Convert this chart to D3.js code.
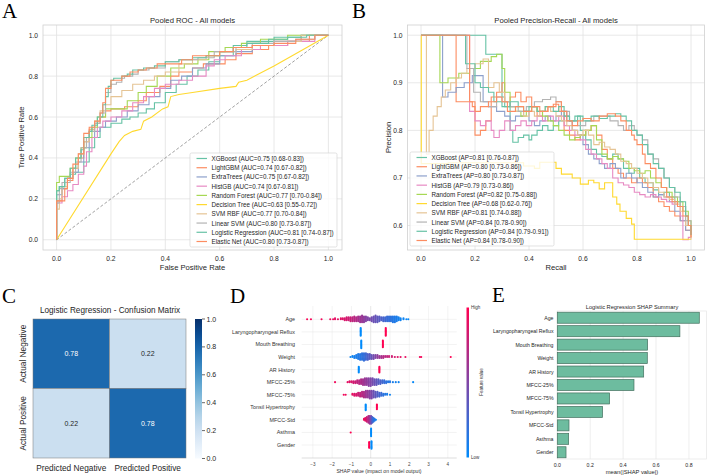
<!DOCTYPE html>
<html>
<head>
<meta charset="utf-8">
<script src="https://cdn.jsdelivr.net/npm/d3@7/dist/d3.min.js"></script>
<style>
  body { margin: 0; background: #fff; }
  svg { display: block; font-family: "Liberation Sans", Arial, sans-serif; }
  .panel-letter { font-family: "Liberation Serif", "Times New Roman", serif; font-size: 21px; fill: #000; }
</style>
</head>
<body>
<svg id="fig" width="708" height="475"></svg>
<script>
// ---------- data ----------
const modelNames = ["XGBoost", "LightGBM", "ExtraTrees", "HistGB", "Random Forest", "Decision Tree",
  "SVM RBF", "Linear SVM", "Logistic Regression", "Elastic Net"];
const modelColors = ["#66c2a5", "#fc8d62", "#8da0cb", "#e78ac3", "#a6d854", "#ffd92f",
  "#e5c494", "#b3b3b3", "#66c2a5", "#fc8d62"];
const aucText = ["0.75 [0.68-0.83]", "0.74 [0.67-0.82]", "0.75 [0.67-0.82]", "0.74 [0.67-0.81]", "0.77 [0.70-0.84]",
  "0.63 [0.55-0.72]", "0.77 [0.70-0.84]", "0.80 [0.73-0.87]", "0.81 [0.74-0.87]", "0.80 [0.73-0.87]"];
const apText = ["0.81 [0.76-0.87]", "0.80 [0.73-0.86]", "0.80 [0.73-0.87]", "0.79 [0.73-0.86]", "0.82 [0.75-0.88]",
  "0.68 [0.62-0.76]", "0.81 [0.74-0.88]", "0.84 [0.78-0.90]", "0.84 [0.79-0.91]", "0.84 [0.78-0.90]"];

// ROC points [fpr, tpr]
const rocXGBoost = [[0,0],[0,0.06],[0.01,0.24],[0.03,0.26],[0.05,0.3],[0.07,0.32],[0.1,0.33],[0.12,0.38],[0.14,0.45],[0.16,0.5],[0.18,0.55],[0.2,0.55],[0.24,0.57],[0.27,0.59],[0.3,0.6],[0.33,0.62],[0.36,0.64],[0.4,0.67],[0.44,0.72],[0.48,0.76],[0.52,0.8],[0.56,0.83],[0.6,0.87],[0.65,0.9],[0.7,0.95],[0.8,0.97],[0.9,0.99],[1,1]];
const rocLightGBM = [[0,0],[0,0.18],[0.02,0.19],[0.04,0.25],[0.06,0.29],[0.08,0.35],[0.1,0.4],[0.12,0.48],[0.14,0.54],[0.16,0.57],[0.18,0.6],[0.2,0.63],[0.25,0.64],[0.3,0.65],[0.33,0.68],[0.38,0.72],[0.42,0.75],[0.45,0.8],[0.5,0.82],[0.54,0.84],[0.58,0.86],[0.62,0.86],[0.66,0.88],[0.72,0.91],[0.78,0.93],[0.85,0.95],[0.93,0.97],[1,1]];
const rocExtraTrees = [[0,0],[0,0.1],[0.02,0.22],[0.04,0.25],[0.06,0.3],[0.08,0.33],[0.1,0.38],[0.12,0.45],[0.14,0.5],[0.16,0.53],[0.18,0.55],[0.22,0.58],[0.26,0.6],[0.3,0.63],[0.34,0.66],[0.38,0.7],[0.42,0.74],[0.46,0.78],[0.5,0.8],[0.55,0.84],[0.6,0.86],[0.66,0.9],[0.72,0.92],[0.8,0.95],[0.9,0.97],[1,1]];
const rocHistGB = [[0,0],[0,0.08],[0.02,0.18],[0.04,0.21],[0.06,0.24],[0.08,0.27],[0.1,0.32],[0.11,0.36],[0.13,0.43],[0.15,0.5],[0.17,0.55],[0.2,0.58],[0.24,0.6],[0.28,0.63],[0.32,0.67],[0.36,0.7],[0.4,0.74],[0.45,0.76],[0.5,0.78],[0.55,0.8],[0.58,0.85],[0.62,0.88],[0.68,0.9],[0.75,0.93],[0.85,0.95],[0.95,0.97],[1,1]];
const rocRandomForest = [[0,0],[0,0.12],[0.01,0.28],[0.03,0.31],[0.05,0.31],[0.07,0.35],[0.09,0.4],[0.11,0.45],[0.13,0.5],[0.15,0.55],[0.18,0.6],[0.21,0.64],[0.26,0.64],[0.3,0.68],[0.33,0.72],[0.37,0.75],[0.42,0.8],[0.47,0.84],[0.52,0.86],[0.56,0.88],[0.62,0.92],[0.68,0.94],[0.75,0.96],[0.85,0.98],[1,1]];
const rocDecisionTree = [[0,0],[0.2,0.42],[0.23,0.48],[0.25,0.51],[0.28,0.53],[0.31,0.54],[0.32,0.58],[0.35,0.6],[0.39,0.64],[0.41,0.65],[0.42,0.7],[0.45,0.71],[0.5,0.72],[0.6,0.74],[0.66,0.75],[0.67,0.77],[0.7,0.78],[0.8,0.85],[1,1]];
const rocSvmRbf = [[0,0],[0,0.05],[0.01,0.15],[0.02,0.2],[0.04,0.26],[0.06,0.3],[0.08,0.35],[0.1,0.42],[0.12,0.48],[0.14,0.53],[0.16,0.58],[0.18,0.63],[0.2,0.66],[0.24,0.7],[0.28,0.73],[0.32,0.76],[0.36,0.78],[0.4,0.8],[0.45,0.82],[0.5,0.86],[0.55,0.88],[0.6,0.9],[0.66,0.92],[0.72,0.93],[0.8,0.95],[0.9,0.97],[1,1]];
const rocLinearSvm = [[0,0],[0,0.07],[0.01,0.18],[0.02,0.25],[0.05,0.28],[0.07,0.33],[0.09,0.38],[0.11,0.45],[0.12,0.5],[0.14,0.53],[0.16,0.57],[0.18,0.62],[0.2,0.72],[0.22,0.76],[0.24,0.77],[0.25,0.79],[0.28,0.8],[0.3,0.81],[0.34,0.83],[0.4,0.84],[0.45,0.87],[0.52,0.88],[0.58,0.89],[0.66,0.92],[0.72,0.94],[0.8,0.96],[0.88,0.97],[0.95,0.98],[1,1]];
const rocLogReg = [[0,0],[0,0.17],[0.01,0.24],[0.03,0.26],[0.05,0.3],[0.07,0.35],[0.09,0.4],[0.1,0.44],[0.12,0.5],[0.13,0.53],[0.15,0.56],[0.17,0.6],[0.18,0.66],[0.19,0.7],[0.2,0.75],[0.21,0.78],[0.24,0.79],[0.26,0.8],[0.28,0.81],[0.32,0.83],[0.36,0.84],[0.4,0.85],[0.45,0.87],[0.5,0.88],[0.55,0.89],[0.6,0.9],[0.65,0.92],[0.7,0.94],[0.78,0.96],[0.85,0.98],[0.92,0.99],[1,1]];
const rocElasticNet = [[0,0],[0,0.13],[0,0.19],[0.03,0.19],[0.04,0.25],[0.06,0.3],[0.08,0.37],[0.1,0.42],[0.12,0.52],[0.14,0.55],[0.16,0.58],[0.17,0.62],[0.18,0.67],[0.2,0.74],[0.21,0.78],[0.24,0.78],[0.27,0.8],[0.3,0.82],[0.33,0.83],[0.37,0.84],[0.41,0.86],[0.46,0.86],[0.5,0.88],[0.55,0.9],[0.6,0.9],[0.65,0.92],[0.72,0.94],[0.8,0.95],[0.88,0.96],[0.95,0.98],[1,1]];
const rocCurves = [rocXGBoost, rocLightGBM, rocExtraTrees, rocHistGB, rocRandomForest, rocDecisionTree,
  rocSvmRbf, rocLinearSvm, rocLogReg, rocElasticNet];

// precision-recall points [recall, precision] (level starts at recall)
const prXGBoost = [[0,1],[0.24,0.96],[0.3,0.87],[0.31,0.85],[0.33,0.8],[0.34,0.775],[0.36,0.785],[0.38,0.79],[0.4,0.78],[0.41,0.79],[0.43,0.8],[0.45,0.81],[0.47,0.8],[0.49,0.81],[0.51,0.82],[0.53,0.83],[0.55,0.82],[0.57,0.83],[0.59,0.8],[0.61,0.78],[0.63,0.76],[0.65,0.75],[0.67,0.745],[0.69,0.74],[0.71,0.75],[0.73,0.74],[0.75,0.72],[0.77,0.71],[0.79,0.72],[0.81,0.7],[0.83,0.69],[0.86,0.675],[0.88,0.665],[0.9,0.67],[0.92,0.66],[0.94,0.65],[0.96,0.64],[0.98,0.62],[0.99,0.6],[1,0.58]];
const prLightGBM = [[0,1],[0.13,0.86],[0.19,0.85],[0.2,0.79],[0.22,0.8],[0.24,0.82],[0.26,0.87],[0.28,0.88],[0.3,0.9],[0.31,0.86],[0.33,0.87],[0.35,0.88],[0.37,0.86],[0.39,0.87],[0.41,0.85],[0.43,0.83],[0.45,0.84],[0.47,0.85],[0.49,0.855],[0.51,0.84],[0.53,0.8],[0.55,0.79],[0.57,0.78],[0.59,0.79],[0.61,0.8],[0.63,0.81],[0.65,0.79],[0.67,0.76],[0.69,0.74],[0.71,0.72],[0.73,0.71],[0.75,0.7],[0.78,0.69],[0.8,0.7],[0.82,0.69],[0.84,0.68],[0.86,0.66],[0.88,0.65],[0.9,0.64],[0.92,0.63],[0.94,0.62],[0.96,0.61],[0.98,0.59],[1,0.575]];
const prExtraTrees = [[0,1],[0.08,0.87],[0.1,0.88],[0.13,0.89],[0.16,0.9],[0.19,0.915],[0.23,0.86],[0.25,0.85],[0.28,0.84],[0.31,0.83],[0.33,0.82],[0.35,0.83],[0.38,0.84],[0.4,0.82],[0.42,0.81],[0.44,0.82],[0.46,0.83],[0.48,0.82],[0.5,0.83],[0.52,0.84],[0.54,0.82],[0.56,0.8],[0.58,0.79],[0.6,0.77],[0.62,0.75],[0.64,0.74],[0.66,0.73],[0.68,0.72],[0.7,0.73],[0.72,0.72],[0.74,0.7],[0.76,0.71],[0.78,0.7],[0.8,0.69],[0.82,0.68],[0.84,0.67],[0.86,0.66],[0.88,0.665],[0.9,0.66],[0.92,0.65],[0.94,0.63],[0.96,0.61],[0.98,0.59],[1,0.58]];
const prHistGB = [[0,1],[0.18,0.84],[0.2,0.82],[0.22,0.81],[0.24,0.82],[0.26,0.8],[0.27,0.785],[0.29,0.8],[0.31,0.82],[0.33,0.8],[0.35,0.81],[0.37,0.82],[0.39,0.81],[0.41,0.82],[0.43,0.83],[0.45,0.82],[0.47,0.83],[0.49,0.82],[0.51,0.83],[0.53,0.81],[0.55,0.8],[0.57,0.79],[0.59,0.78],[0.61,0.76],[0.63,0.75],[0.65,0.74],[0.67,0.73],[0.69,0.72],[0.71,0.7],[0.73,0.69],[0.75,0.685],[0.77,0.68],[0.79,0.67],[0.81,0.665],[0.83,0.66],[0.85,0.665],[0.87,0.66],[0.89,0.655],[0.91,0.65],[0.93,0.645],[0.95,0.64],[0.96,0.62],[0.97,0.57],[0.99,0.575],[1,0.575]];
const prRandomForest = [[0,1],[0.07,0.9],[0.1,0.91],[0.14,0.92],[0.18,0.93],[0.22,0.945],[0.26,0.955],[0.28,0.96],[0.3,0.93],[0.31,0.88],[0.33,0.85],[0.35,0.84],[0.37,0.83],[0.39,0.84],[0.41,0.85],[0.43,0.84],[0.45,0.83],[0.47,0.82],[0.49,0.81],[0.51,0.8],[0.53,0.79],[0.55,0.78],[0.57,0.785],[0.59,0.79],[0.61,0.8],[0.63,0.81],[0.65,0.78],[0.67,0.75],[0.69,0.74],[0.71,0.745],[0.73,0.74],[0.75,0.735],[0.77,0.72],[0.79,0.715],[0.81,0.71],[0.83,0.715],[0.85,0.7],[0.87,0.69],[0.89,0.68],[0.91,0.67],[0.93,0.66],[0.95,0.65],[0.97,0.63],[0.99,0.61],[1,0.58]];
const prDecisionTree = [[0,1],[0.001,0.73],[0.1,0.732],[0.38,0.725],[0.42,0.72],[0.44,0.733],[0.5,0.72],[0.52,0.708],[0.56,0.7],[0.59,0.687],[0.62,0.695],[0.64,0.69],[0.66,0.677],[0.68,0.69],[0.705,0.69],[0.71,0.66],[0.725,0.645],[0.737,0.63],[0.76,0.615],[0.78,0.603],[0.79,0.571],[1,0.571]];
const prSvmRbf = [[0,1],[0.02,0.75],[0.03,0.8],[0.045,0.83],[0.06,0.85],[0.075,0.87],[0.09,0.885],[0.11,0.9],[0.13,0.91],[0.15,0.92],[0.17,0.93],[0.2,0.94],[0.23,0.95],[0.25,0.89],[0.27,0.9],[0.29,0.88],[0.31,0.86],[0.33,0.85],[0.35,0.84],[0.38,0.83],[0.4,0.84],[0.42,0.83],[0.44,0.84],[0.46,0.85],[0.48,0.84],[0.5,0.83],[0.52,0.82],[0.54,0.81],[0.56,0.8],[0.58,0.79],[0.6,0.8],[0.62,0.79],[0.64,0.77],[0.66,0.775],[0.68,0.765],[0.7,0.76],[0.72,0.75],[0.74,0.735],[0.76,0.73],[0.78,0.72],[0.8,0.71],[0.82,0.7],[0.84,0.69],[0.86,0.68],[0.88,0.67],[0.9,0.66],[0.92,0.655],[0.94,0.645],[0.96,0.63],[0.98,0.6],[1,0.57]];
const prLinearSvm = [[0,1],[0.17,0.93],[0.195,0.88],[0.22,0.86],[0.25,0.85],[0.28,0.87],[0.3,0.86],[0.33,0.85],[0.36,0.84],[0.39,0.85],[0.42,0.86],[0.45,0.865],[0.48,0.87],[0.5,0.86],[0.52,0.84],[0.55,0.82],[0.58,0.81],[0.61,0.82],[0.64,0.83],[0.67,0.83],[0.7,0.82],[0.73,0.81],[0.75,0.8],[0.77,0.81],[0.79,0.8],[0.8,0.79],[0.82,0.78],[0.84,0.75],[0.86,0.74],[0.88,0.72],[0.9,0.7],[0.92,0.68],[0.94,0.66],[0.96,0.64],[0.98,0.61],[1,0.58]];
const prLogReg = [[0,1],[0.165,0.94],[0.2,0.9],[0.22,0.89],[0.25,0.88],[0.27,0.86],[0.3,0.85],[0.33,0.86],[0.36,0.85],[0.38,0.84],[0.4,0.85],[0.43,0.84],[0.46,0.85],[0.49,0.84],[0.51,0.85],[0.53,0.83],[0.55,0.82],[0.58,0.83],[0.6,0.82],[0.63,0.83],[0.66,0.825],[0.69,0.83],[0.72,0.835],[0.74,0.83],[0.76,0.82],[0.78,0.8],[0.8,0.79],[0.82,0.77],[0.84,0.75],[0.86,0.73],[0.88,0.72],[0.9,0.7],[0.92,0.68],[0.94,0.67],[0.96,0.65],[0.98,0.62],[0.99,0.6],[1,0.58]];
const prElasticNet = [[0,1],[0.18,0.86],[0.2,0.84],[0.22,0.85],[0.25,0.86],[0.28,0.87],[0.3,0.86],[0.32,0.84],[0.35,0.85],[0.38,0.84],[0.41,0.85],[0.44,0.84],[0.47,0.85],[0.5,0.86],[0.52,0.84],[0.54,0.82],[0.56,0.81],[0.58,0.82],[0.6,0.825],[0.63,0.82],[0.66,0.83],[0.69,0.835],[0.72,0.83],[0.74,0.82],[0.76,0.8],[0.78,0.79],[0.79,0.78],[0.8,0.77],[0.82,0.75],[0.83,0.73],[0.85,0.72],[0.87,0.7],[0.89,0.68],[0.91,0.66],[0.93,0.65],[0.95,0.64],[0.97,0.62],[0.99,0.6],[1,0.575]];
const prCurves = [prXGBoost, prLightGBM, prExtraTrees, prHistGB, prRandomForest, prDecisionTree,
  prSvmRbf, prLinearSvm, prLogReg, prElasticNet];

// confusion matrix (row-normalised)
const cmRows = ["Actual Negative", "Actual Positive"];
const cmCols = ["Predicted Negative", "Predicted Positive"];
const cmValues = [[0.78, 0.22], [0.22, 0.78]];

// SHAP features, top to bottom
const shapFeatures = ["Age", "Laryngopharyngeal Reflux", "Mouth Breathing", "Weight", "AR History",
  "MFCC-25%", "MFCC-75%", "Tonsil Hypertrophy", "MFCC-Std", "Asthma", "Gender"];
// beeswarm bins: [shap value, number of samples, feature value 0..1]
const shapAge = [[-3.3,1,0.98],[-3.1,1,0.97],[-2.55,1,0.95],[-2.1,1,0.93],[-1.95,1,0.92],[-1.85,2,0.9],[-1.7,1,0.9],[-1.55,2,0.88],[-1.45,2,0.87],[-1.35,3,0.85],[-1.25,4,0.83],[-1.15,4,0.8],[-1.05,5,0.78],[-0.95,5,0.75],[-0.85,6,0.72],[-0.75,5,0.7],[-0.65,6,0.66],[-0.55,7,0.62],[-0.45,8,0.6],[-0.35,7,0.56],[-0.25,6,0.52],[-0.15,4,0.5],[-0.05,3,0.48],[0.05,5,0.45],[0.15,7,0.42],[0.25,8,0.4],[0.35,7,0.37],[0.45,6,0.35],[0.55,4,0.3],[0.65,5,0.28],[0.75,5,0.25],[0.85,6,0.22],[0.95,6,0.2],[1.05,6,0.17],[1.15,7,0.14],[1.25,7,0.12],[1.35,6,0.1],[1.45,4,0.08],[1.55,3,0.06],[1.7,2,0.05],[1.85,1,0.03],[1.95,1,0.02]];
const shapReflux = [[-0.52,9,0],[0.78,9,1]];
const shapMouth = [[-0.49,9,0],[0.63,8,1]];
const shapWeight = [[-1.05,1,0.05],[-0.95,2,0.05],[-0.85,3,0.08],[-0.75,4,0.1],[-0.65,6,0.12],[-0.55,7,0.15],[-0.45,8,0.18],[-0.35,9,0.2],[-0.25,8,0.25],[-0.15,7,0.3],[-0.05,6,0.35],[0.05,5,0.4],[0.15,5,0.45],[0.25,4,0.5],[0.35,4,0.55],[0.45,3,0.6],[0.55,3,0.65],[0.65,3,0.7],[0.75,2,0.72],[0.85,2,0.75],[0.95,2,0.78],[1.1,2,0.8],[1.25,1,0.85],[1.4,1,0.88],[1.55,1,0.9],[1.8,1,0.92],[2.55,1,0.95],[2.62,1,0.96],[4.15,1,1]];
const shapArHistory = [[-0.62,7,0],[0.45,7,1]];
const shapMfcc25 = [[-1.85,1,0.95],[-1.2,1,0.9],[-1.1,2,0.88],[-1.0,2,0.85],[-0.9,3,0.82],[-0.8,3,0.8],[-0.7,4,0.75],[-0.6,5,0.72],[-0.5,6,0.68],[-0.4,7,0.64],[-0.3,8,0.6],[-0.2,8,0.57],[-0.1,9,0.53],[0,9,0.5],[0.1,8,0.46],[0.2,7,0.42],[0.3,7,0.38],[0.4,6,0.34],[0.5,5,0.3],[0.6,4,0.26],[0.7,4,0.22],[0.8,3,0.18],[0.9,2,0.15],[1.0,2,0.12],[1.15,1,0.1],[1.3,1,0.08],[1.45,1,0.06],[2.2,1,0.02]];
const shapMfcc75 = [[-1.4,1,0.95],[-1.3,1,0.95],[-0.95,2,0.9],[-0.85,3,0.87],[-0.75,3,0.85],[-0.65,4,0.8],[-0.55,5,0.76],[-0.45,6,0.72],[-0.35,7,0.68],[-0.25,8,0.62],[-0.15,8,0.58],[-0.05,9,0.53],[0.05,9,0.48],[0.15,8,0.42],[0.25,7,0.37],[0.35,6,0.32],[0.45,5,0.27],[0.55,4,0.22],[0.65,3,0.18],[0.75,2,0.14],[0.85,2,0.1],[1.0,1,0.06]];
const shapTonsil = [[-0.26,7,0],[0.32,6,1]];
const shapMfccStd = [[-0.35,2,0.95],[-0.28,4,0.9],[-0.2,6,0.8],[-0.12,8,0.7],[-0.05,9,0.6],[0.02,9,0.45],[0.08,7,0.3],[0.14,5,0.2],[0.2,3,0.12],[0.27,1,0.05]];
const shapAsthma = [[-1.04,1,1],[0.02,9,0]];
const shapGender = [[-0.08,7,1],[0.04,9,0]];
const shapRows = [shapAge, shapReflux, shapMouth, shapWeight, shapArHistory, shapMfcc25, shapMfcc75,
  shapTonsil, shapMfccStd, shapAsthma, shapGender];
const shapXLim = [-3.58, 4.46];
const shapXTicks = [-3, -2, -1, 0, 1, 2, 3, 4];

// mean |SHAP|
const meanAbsShap = [0.863, 0.745, 0.549, 0.547, 0.525, 0.466, 0.318, 0.275, 0.071, 0.069, 0.053];

// ---------- drawing ----------
const svg = d3.select("#fig");
const textColor = "#262626";
const gridColor = "#e2e2e2";
const frameColor = "#d0d0d0";
const f1 = d3.format(".1f");

function letter(txt, x, y) {
  svg.append("text").attr("class", "panel-letter").attr("x", x).attr("y", y).text(txt);
}

// light seaborn-like axes with grid
function gridAxes(x, y, xTicks, yTicks) {
  const g = svg.append("g");
  const [x0, x1] = x.range(), [y0, y1] = y.range();
  g.selectAll(".gx").data(xTicks).join("line")
    .attr("x1", d => x(d)).attr("x2", d => x(d)).attr("y1", y0).attr("y2", y1)
    .attr("stroke", gridColor).attr("stroke-width", 0.8);
  g.selectAll(".gy").data(yTicks).join("line")
    .attr("y1", d => y(d)).attr("y2", d => y(d)).attr("x1", x0).attr("x2", x1)
    .attr("stroke", gridColor).attr("stroke-width", 0.8);
  g.append("rect").attr("x", x0).attr("y", y1).attr("width", x1 - x0).attr("height", y0 - y1)
    .attr("fill", "none").attr("stroke", frameColor).attr("stroke-width", 0.8);
  g.selectAll(".tx").data(xTicks).join("text")
    .attr("x", d => x(d)).attr("y", y0 + 8.5).attr("text-anchor", "middle").attr("dominant-baseline", "central")
    .attr("font-size", 6.7).attr("fill", textColor).text(f1);
  g.selectAll(".ty").data(yTicks).join("text")
    .attr("x", x0 - 5).attr("y", d => y(d)).attr("text-anchor", "end").attr("dominant-baseline", "central")
    .attr("font-size", 6.7).attr("fill", textColor).text(f1);
  return g;
}

function axisTitles(x, y, title, xLabel, yLabel, yLabelX) {
  const [x0, x1] = x.range(), [y0, y1] = y.range();
  const cx = (x0 + x1) / 2, cy = (y0 + y1) / 2;
  svg.append("text").attr("x", cx).attr("y", y1 - 5).attr("text-anchor", "middle").attr("dominant-baseline", "central")
    .attr("font-size", 7.7).attr("fill", textColor).text(title);
  svg.append("text").attr("x", cx).attr("y", y0 + 17).attr("text-anchor", "middle").attr("dominant-baseline", "central")
    .attr("font-size", 7.6).attr("fill", textColor).text(xLabel);
  svg.append("text").attr("transform", `translate(${yLabelX},${cy}) rotate(-90)`)
    .attr("text-anchor", "middle").attr("dominant-baseline", "central")
    .attr("font-size", 7.6).attr("fill", textColor).text(yLabel);
}

function legend(x0, y0, w, h, labels) {
  const g = svg.append("g");
  g.append("rect").attr("x", x0).attr("y", y0).attr("width", w).attr("height", h).attr("rx", 1.5)
    .attr("fill", "#fff").attr("fill-opacity", 0.8).attr("stroke", "#d6d6d6").attr("stroke-width", 0.7);
  const step = (h - 11) / (labels.length - 1);
  labels.forEach((t, i) => {
    const yy = y0 + 5.5 + i * step;
    g.append("line").attr("x1", x0 + 6.5).attr("x2", x0 + 17).attr("y1", yy).attr("y2", yy)
      .attr("stroke", modelColors[i]).attr("stroke-width", 1.2);
    g.append("text").attr("x", x0 + 21.5).attr("y", yy).attr("dominant-baseline", "central")
      .attr("font-size", 6.3).attr("fill", textColor).text(t);
  });
}

const unitTicks = [0, 0.2, 0.4, 0.6, 0.8, 1.0];

// ---- A: ROC ----
const xA = d3.scaleLinear().domain([-0.05, 1.05]).range([43, 342]);
const yA = d3.scaleLinear().domain([-0.05, 1.05]).range([250, 25]);
gridAxes(xA, yA, unitTicks, unitTicks);
svg.append("line").attr("x1", xA(0)).attr("y1", yA(0)).attr("x2", xA(1)).attr("y2", yA(1))
  .attr("stroke", "#888").attr("stroke-width", 0.8).attr("stroke-dasharray", "3,2");
rocCurves.forEach((pts, i) => {
  const line = d3.line().x(d => xA(d[0])).y(d => yA(d[1]))
    .curve(modelNames[i] === "Decision Tree" ? d3.curveLinear : d3.curveStepBefore);
  svg.append("path").attr("d", line(pts)).attr("fill", "none")
    .attr("stroke", modelColors[i]).attr("stroke-width", 1.1);
});
axisTitles(xA, yA, "Pooled ROC - All models", "False Positive Rate", "True Positive Rate", 21);
legend(190, 153, 147, 94, modelNames.map((n, i) => `${n} (AUC=${aucText[i]})`));
letter("A", 2, 18);

// ---- B: Precision-Recall ----
const pAll = prCurves.flat().map(d => d[1]);
const pMin = d3.min(pAll), pMax = d3.max(pAll), pPad = (pMax - pMin) * 0.05;
const xB = d3.scaleLinear().domain([-0.05, 1.05]).range([407.5, 704.5]);
const yB = d3.scaleLinear().domain([pMin - pPad, pMax + pPad]).range([250, 25]);
gridAxes(xB, yB, unitTicks, [0.6, 0.7, 0.8, 0.9, 1.0]);
prCurves.forEach((pts, i) => {
  const line = d3.line().x(d => xB(d[0])).y(d => yB(d[1])).curve(d3.curveStepAfter);
  svg.append("path").attr("d", line(pts)).attr("fill", "none")
    .attr("stroke", modelColors[i]).attr("stroke-width", 1.1);
});
axisTitles(xB, yB, "Pooled Precision-Recall - All models", "Recall", "Precision", 388.5);
legend(410, 152, 144, 94, modelNames.map((n, i) => `${n} (AP=${apText[i]})`));
letter("B", 352, 18);

// ---- C: confusion matrix ----
const xC = d3.scaleBand().domain(cmCols).range([33, 186]);
const yC = d3.scaleBand().domain(cmRows).range([319, 458]);
const cmColor = d3.scaleSequential(d3.interpolateBlues).domain([0, 1]);
cmRows.forEach((r, i) => cmCols.forEach((c, j) => {
  const v = cmValues[i][j];
  svg.append("rect").attr("x", xC(c)).attr("y", yC(r)).attr("width", xC.bandwidth()).attr("height", yC.bandwidth())
    .attr("fill", cmColor(v)).attr("stroke", "#777").attr("stroke-width", 0.5);
  svg.append("text").attr("x", xC(c) + xC.bandwidth() / 2).attr("y", yC(r) + yC.bandwidth() / 2)
    .attr("text-anchor", "middle").attr("dominant-baseline", "central").attr("font-size", 7)
    .attr("fill", v > 0.5 ? "#fff" : textColor).text(v.toFixed(2));
}));
cmCols.forEach(c => svg.append("text").attr("x", xC(c) + xC.bandwidth() / 2).attr("y", 468)
  .attr("text-anchor", "middle").attr("dominant-baseline", "central").attr("font-size", 8.3)
  .attr("fill", textColor).text(c));
cmRows.forEach(r => svg.append("text")
  .attr("transform", `translate(23,${yC(r) + yC.bandwidth() / 2}) rotate(-90)`)
  .attr("text-anchor", "middle").attr("dominant-baseline", "central").attr("font-size", 8.3)
  .attr("fill", textColor).text(r));
svg.append("text").attr("x", 110).attr("y", 310).attr("text-anchor", "middle").attr("dominant-baseline", "central")
  .attr("font-size", 8.2).attr("fill", textColor).text("Logistic Regression - Confusion Matrix");
// colour bar
const defs = svg.append("defs");
const gradC = defs.append("linearGradient").attr("id", "gradBlues").attr("x1", 0).attr("x2", 0).attr("y1", 1).attr("y2", 0);
d3.range(0, 1.01, 0.1).forEach(t => gradC.append("stop").attr("offset", t).attr("stop-color", cmColor(t)));
const yCb = d3.scaleLinear().domain([0, 1]).range([458.5, 319]);
svg.append("rect").attr("x", 195).attr("y", 319).attr("width", 7).attr("height", 139.5).attr("fill", "url(#gradBlues)");
unitTicks.forEach(t => {
  svg.append("line").attr("x1", 202).attr("x2", 205).attr("y1", yCb(t)).attr("y2", yCb(t))
    .attr("stroke", textColor).attr("stroke-width", 0.7);
  svg.append("text").attr("x", 206.5).attr("y", yCb(t)).attr("dominant-baseline", "central")
    .attr("font-size", 7).attr("fill", textColor).text(f1(t));
});
letter("C", 2, 303);

// ---- D: SHAP beeswarm ----
const xD = d3.scaleLinear().domain(shapXLim).range([301.7, 456.7]);
const yD = d3.scalePoint().domain(shapFeatures).range([319.3, 445]);
const shapColor = d3.interpolateRgb("#008bfb", "#ff0051");
shapXTicks.forEach(t => {
  svg.append("line").attr("x1", xD(t)).attr("x2", xD(t)).attr("y1", 306).attr("y2", 458)
    .attr("stroke", t === 0 ? "#d8d8d8" : "#ececec").attr("stroke-width", 0.6);
  svg.append("text").attr("x", xD(t)).attr("y", 464).attr("text-anchor", "middle").attr("dominant-baseline", "central")
    .attr("font-size", 4.6).attr("fill", "#444").text(d3.format("d")(t));
});
shapFeatures.forEach((f, i) => {
  const cy = yD(f);
  svg.append("line").attr("x1", 301.7).attr("x2", 456.7).attr("y1", cy).attr("y2", cy)
    .attr("stroke", "#e4e4e4").attr("stroke-width", 0.5);
  svg.append("text").attr("x", 295).attr("y", cy).attr("text-anchor", "end").attr("dominant-baseline", "central")
    .attr("font-size", 5.4).attr("fill", "#333").text(f);
  const dots = [];
  shapRows[i].forEach(([v, n, fv]) => {
    for (let k = 0; k < n; k++) {
      const off = (k % 2 === 0 ? 1 : -1) * Math.ceil(k / 2) * 0.95;
      dots.push({ x: xD(v), y: cy + off, fv });
    }
  });
  svg.append("g").selectAll("circle").data(dots).join("circle")
    .attr("cx", d => d.x).attr("cy", d => d.y).attr("r", 1.05)
    .attr("fill", d => shapColor(d.fv));
});
svg.append("line").attr("x1", 301.7).attr("x2", 456.7).attr("y1", 458).attr("y2", 458)
  .attr("stroke", "#bbb").attr("stroke-width", 0.5);
svg.append("text").attr("x", 379).attr("y", 471).attr("text-anchor", "middle").attr("dominant-baseline", "central")
  .attr("font-size", 5.1).attr("fill", "#333").text("SHAP value (impact on model output)");
const gradS = defs.append("linearGradient").attr("id", "gradShap").attr("x1", 0).attr("x2", 0).attr("y1", 1).attr("y2", 0);
d3.range(0, 1.01, 0.1).forEach(t => gradS.append("stop").attr("offset", t).attr("stop-color", shapColor(t)));
svg.append("rect").attr("x", 466.5).attr("y", 307.5).attr("width", 2.5).attr("height", 150).attr("fill", "url(#gradShap)");
svg.append("text").attr("x", 471).attr("y", 307.5).attr("dominant-baseline", "central").attr("font-size", 4.5)
  .attr("fill", "#333").text("High");
svg.append("text").attr("x", 471).attr("y", 457.5).attr("dominant-baseline", "central").attr("font-size", 4.5)
  .attr("fill", "#333").text("Low");
svg.append("text").attr("transform", "translate(481.5,382) rotate(-90)").attr("text-anchor", "middle")
  .attr("dominant-baseline", "central").attr("font-size", 4.5).attr("fill", "#333").text("Feature value");
letter("D", 230, 303);

// ---- E: mean |SHAP| bars ----
const xE = d3.scaleLinear().domain([0, d3.max(meanAbsShap) * 1.05]).range([557.3, 706.4]);
const yE = d3.scaleBand().domain(shapFeatures).range([311, 459]).paddingInner(0.18).paddingOuter(0.09);
const eTicks = [0, 0.2, 0.4, 0.6, 0.8];
eTicks.forEach(t => {
  svg.append("line").attr("x1", xE(t)).attr("x2", xE(t)).attr("y1", 311).attr("y2", 459)
    .attr("stroke", "#e6e6e6").attr("stroke-width", 0.7);
  svg.append("text").attr("x", xE(t)).attr("y", 464.5).attr("text-anchor", "middle").attr("dominant-baseline", "central")
    .attr("font-size", 5.2).attr("fill", textColor).text(f1(t));
});
svg.append("rect").attr("x", 557.3).attr("y", 311).attr("width", 706.4 - 557.3).attr("height", 148)
  .attr("fill", "none").attr("stroke", "#e6e6e6").attr("stroke-width", 0.7);
svg.append("g").selectAll("rect").data(shapFeatures).join("rect")
  .attr("x", xE(0)).attr("y", d => yE(d)).attr("width", (d, i) => xE(meanAbsShap[i]) - xE(0))
  .attr("height", yE.bandwidth()).attr("fill", "#6dbc9f").attr("stroke", "#44705f").attr("stroke-width", 0.7);
shapFeatures.forEach(f => svg.append("text").attr("x", 553.5).attr("y", yE(f) + yE.bandwidth() / 2)
  .attr("text-anchor", "end").attr("dominant-baseline", "central").attr("font-size", 5.2)
  .attr("fill", textColor).text(f));
svg.append("text").attr("x", 632).attr("y", 307).attr("text-anchor", "middle").attr("dominant-baseline", "central")
  .attr("font-size", 5.7).attr("fill", textColor).text("Logistic Regression SHAP Summary");
svg.append("text").attr("x", 632).attr("y", 471.5).attr("text-anchor", "middle").attr("dominant-baseline", "central")
  .attr("font-size", 5.8).attr("fill", textColor).text("mean(|SHAP value|)");
letter("E", 492, 302);
</script>
</body>
</html>
